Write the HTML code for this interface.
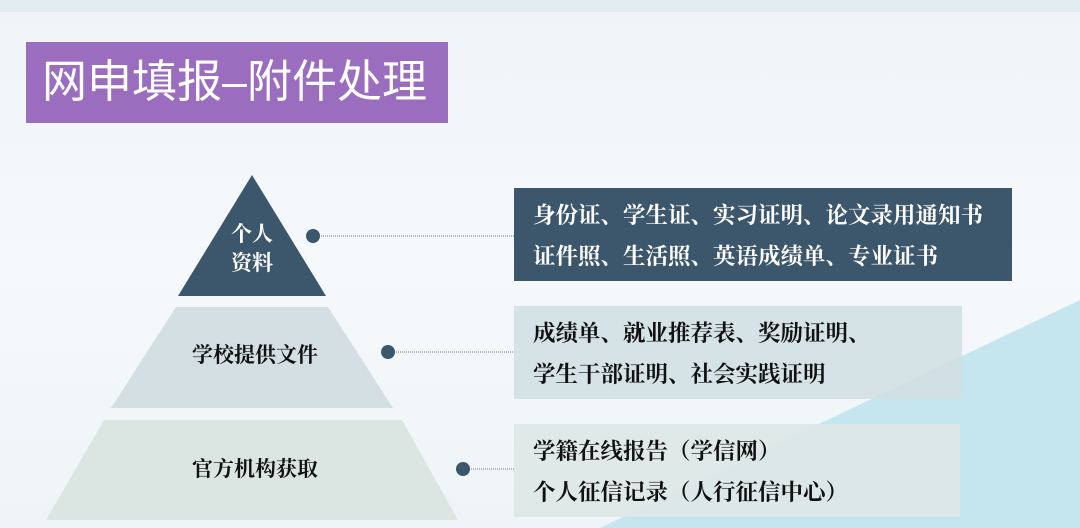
<!DOCTYPE html>
<html><head><meta charset="utf-8"><style>
body{margin:0;width:1080px;height:528px;overflow:hidden;background:#f3f7fa;position:relative;font-family:"Liberation Serif","Noto Serif CJK SC",serif}
.a{position:absolute;white-space:nowrap}
.t{font-weight:bold;font-size:22.5px;line-height:41px}
</style></head><body>
<svg class="a" style="left:0;top:0" width="1080" height="528">
<defs><linearGradient id="bg" x1="0" y1="0" x2="0" y2="1"><stop offset="0" stop-color="#eef4f8"/><stop offset="0.5" stop-color="#f6f9fb"/><stop offset="1" stop-color="#eef4f7"/></linearGradient></defs>
<rect width="1080" height="528" fill="url(#bg)"/>
<rect width="1080" height="12" fill="#e2edf2"/>
<polygon points="600,528 1080,300 1080,528" fill="#c6e6ef"/>
<rect x="26" y="42" width="422" height="81" fill="#9b6dbf"/>
<polygon points="252,175 326,296 178,296" fill="#3c566c"/>
<polygon points="176,307 328,307 393,408 111,408" fill="#d3dfe3"/>
<polygon points="104,420 402,420 458,520 46,520" fill="#dbe6e3"/>
<line x1="313" y1="236" x2="514" y2="236" stroke="#777" stroke-dasharray="1,1"/>
<line x1="388" y1="352" x2="514" y2="352" stroke="#777" stroke-dasharray="1,1"/>
<line x1="463" y1="469" x2="514" y2="469" stroke="#777" stroke-dasharray="1,1"/>
<circle cx="313" cy="236" r="7" fill="#3c566c"/>
<circle cx="388" cy="352" r="7" fill="#3c566c"/>
<circle cx="463" cy="469" r="7" fill="#3c566c"/>
<rect x="514" y="188" width="498" height="93" fill="#3c566c"/>
<rect x="514" y="306" width="448" height="93" fill="#d2dfe3" opacity="0.9"/>
<rect x="514" y="424" width="446" height="93" fill="#dde8e6" opacity="0.9"/>
</svg>
<div class="a" style="left:42px;top:53px;color:#fff;font-size:45px;line-height:58px;font-family:'Liberation Sans','Noto Sans CJK SC',sans-serif">网申填报–附件处理</div>
<div class="a t" style="left:217px;top:220px;width:70px;text-align:center;color:#fff;font-size:21px;line-height:29px">个人<br>资料</div>
<div class="a t" style="left:155px;top:335px;width:200px;text-align:center;color:#111;font-size:21px">学校提供文件</div>
<div class="a t" style="left:155px;top:449px;width:200px;text-align:center;color:#111;font-size:21px">官方机构获取</div>
<div class="a t" style="left:533px;top:195px;color:#fff">身份证、学生证、实习证明、论文录用通知书<br>证件照、生活照、英语成绩单、专业证书</div>
<div class="a t" style="left:533px;top:313px;color:#111">成绩单、就业推荐表、奖励证明、<br>学生干部证明、社会实践证明</div>
<div class="a t" style="left:533px;top:431px;color:#111">学籍在线报告（学信网）<br>个人征信记录（人行征信中心）</div>
</body></html>
